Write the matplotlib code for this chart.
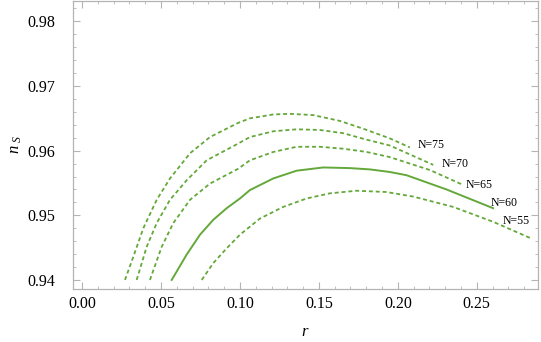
import numpy as np
import matplotlib
matplotlib.use('Agg')
import matplotlib.pyplot as plt
from matplotlib.ticker import MultipleLocator, FormatStrFormatter

plt.rcParams['font.family'] = ['Liberation Serif', 'DejaVu Serif']
plt.rcParams['mathtext.fontset'] = 'custom'
plt.rcParams['mathtext.it'] = 'Liberation Serif:italic'
plt.rcParams['mathtext.rm'] = 'Liberation Serif'

# values (r, n_s) for each e-fold number N
r_75 = [0.0272, 0.0325, 0.0388, 0.0473, 0.0557, 0.0684, 0.0810, 0.0989, 0.1063, 0.1211,
        0.1316, 0.1464, 0.1633, 0.1780, 0.1949, 0.2076]
ns_75 = [0.9400, 0.9436, 0.9480, 0.9524, 0.9557, 0.9596, 0.9621, 0.9643, 0.9650, 0.9656,
         0.9657, 0.9655, 0.9646, 0.9634, 0.9619, 0.9605]

r_70 = [0.0346, 0.0409, 0.0473, 0.0557, 0.0662, 0.0789, 0.0989, 0.1063, 0.1211, 0.1359,
        0.1506, 0.1654, 0.1802, 0.1949, 0.2224]
ns_70 = [0.9400, 0.9451, 0.9488, 0.9524, 0.9554, 0.9585, 0.9611, 0.9621, 0.9630, 0.9633,
         0.9632, 0.9627, 0.9617, 0.9608, 0.9578]

r_65 = [0.0430, 0.0504, 0.0578, 0.0684, 0.0810, 0.0989, 0.1063, 0.1211, 0.1359, 0.1506,
        0.1654, 0.1802, 0.1949, 0.2203, 0.2413]
ns_65 = [0.9400, 0.9451, 0.9488, 0.9524, 0.9549, 0.9572, 0.9585, 0.9598, 0.9606, 0.9606,
         0.9603, 0.9598, 0.9590, 0.9570, 0.9547]

r_60 = [0.0568, 0.0662, 0.0747, 0.0831, 0.0916, 0.1000, 0.1063, 0.1211, 0.1359, 0.1527,
        0.1696, 0.1823, 0.1949, 0.2055, 0.2308, 0.2603]
ns_60 = [0.9400, 0.9439, 0.9470, 0.9493, 0.9511, 0.9526, 0.9539, 0.9557, 0.9569, 0.9574,
         0.9573, 0.9571, 0.9567, 0.9562, 0.9540, 0.9511]

r_55 = [0.0758, 0.0831, 0.0916, 0.1000, 0.1127, 0.1274, 0.1422, 0.1570, 0.1739, 0.1928,
        0.2097, 0.2350, 0.2603, 0.2846]
ns_55 = [0.9400, 0.9426, 0.9449, 0.9470, 0.9495, 0.9513, 0.9526, 0.9534, 0.9538, 0.9536,
         0.9529, 0.9513, 0.9490, 0.9464]

labels = ['N=75', 'N=70', 'N=65', 'N=60', 'N=55']
label_r = [0.2213, 0.2361, 0.2513, 0.2671, 0.2751]
label_ns = [0.9608, 0.9580, 0.9547, 0.9519, 0.9491]

green = '#64a83a'
frame = '#b4b4b4'

fig = plt.figure(figsize=(5.41, 3.42), dpi=100)
ax = fig.add_axes([0.135, 0.155, 0.859, 0.843])

dash = dict(color=green, lw=1.3, dashes=(2.2, 1.6))
ax.plot(r_75, ns_75, **dash)
ax.plot(r_70, ns_70, **dash)
ax.plot(r_65, ns_65, **dash)
ax.plot(r_60, ns_60, color=green, lw=1.4)
ax.plot(r_55, ns_55, **dash)

for t, x, y in zip(labels, label_r, label_ns):
    ax.text(x, y, t, fontsize=8.5, ha='center', va='center')

ax.set_xlim(-0.0057, 0.2886)
ax.set_ylim(0.9386, 0.9832)

ax.xaxis.set_major_locator(MultipleLocator(0.05))
ax.xaxis.set_minor_locator(MultipleLocator(0.01))
ax.yaxis.set_major_locator(MultipleLocator(0.01))
ax.yaxis.set_minor_locator(MultipleLocator(0.002))
ax.xaxis.set_major_formatter(FormatStrFormatter('%.2f'))
ax.yaxis.set_major_formatter(FormatStrFormatter('%.2f'))

ax.tick_params(which='both', direction='in', top=True, right=True, color=frame,
               labelsize=11.5, labelcolor='black')
ax.tick_params(which='major', length=5, width=0.8, pad=5)
ax.tick_params(which='minor', length=2.5, width=0.6)
ax.tick_params(axis='y', which='major', pad=13)
for s in ax.spines.values():
    s.set_color(frame)
    s.set_linewidth(0.9)

ax.set_xlabel('$r$', fontsize=12, labelpad=9)
ax.set_ylabel('$n_{\\ S}$', fontsize=12, labelpad=2)

fig.savefig('out.png', dpi=100)
